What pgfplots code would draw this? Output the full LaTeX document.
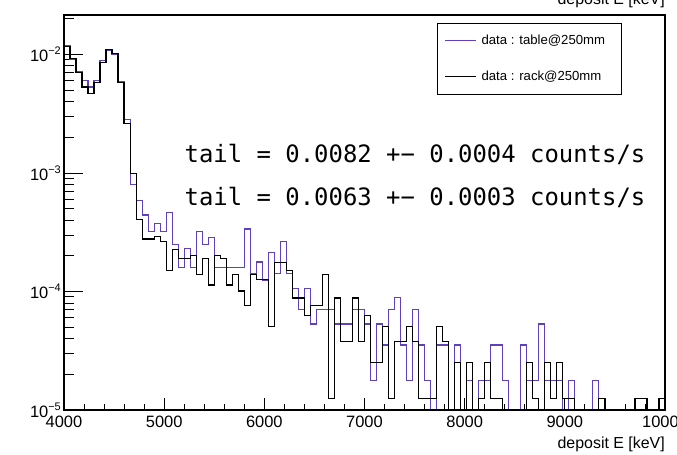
\documentclass[border=0pt]{standalone}
\usepackage{pgfplots}
\pgfplotsset{compat=1.18}
\usepackage{fontspec}
\setmainfont{Liberation Sans}
\newfontfamily\monofont{DejaVu Sans Mono}
\definecolor{purp}{RGB}{95,65,190}
\newcommand\tp[1]{10\raisebox{0.42em}{\fontsize{11}{11}\selectfont #1}}

\begin{document}
\begin{tikzpicture}
\begin{axis}[scale only axis, width=601bp, height=395bp,
  xmin=4000, xmax=10000, ymode=log, ymin=1e-5, ymax=0.0215,
  at={(0bp,0bp)}, anchor=south west,
  axis line style={line width=1.1bp},
  tick style={line width=0.8bp, black}, tick align=inside,
  tick label style={font=\fontsize{16.5}{18}\selectfont},
  xtick=\empty,
  ytick={1e-5,1e-4,1e-3,1e-2},
  yticklabels={\tp{−5},\tp{−4},\tp{−3},\tp{−2}},
  minor ytick={2e-5,3e-5,4e-5,5e-5,6e-5,7e-5,8e-5,9e-5,2e-4,3e-4,4e-4,5e-4,6e-4,7e-4,8e-4,9e-4,2e-3,3e-3,4e-3,5e-3,6e-3,7e-3,8e-3,9e-3,2e-2},
  ytick pos=left,
  major tick length=19bp, minor tick length=10bp,
  yticklabel style={inner sep=0pt, xshift=-3bp},
  legend cell align=left,
  legend image code/.code={\draw[#1] (0bp,0bp) -- (31bp,0bp);},
  legend style={at={(axis description cs:0.6201,0.9805)}, anchor=north west,
    draw=black, line width=0.8bp, fill=white,
    inner xsep=7.3bp, inner ysep=0pt, row sep=0pt, column sep=5bp,
    font=\fontsize{13.2}{15}\selectfont,
    nodes={inner sep=0pt, minimum height=35.5bp}},
]
\addplot[purp, line width=1.2bp, const plot mark left] table {
x y
4000 0.0119
4060 0.0091
4120 0.0071
4180 0.0060
4240 0.0053
4300 0.0060
4360 0.0089
4420 0.0109
4480 0.0100
4540 0.0059
4600 0.00282
4660 7.965e-4
4720 5.841e-4
4780 4.425e-4
4840 3.186e-4
4900 3.717e-4
4960 3.186e-4
5020 4.602e-4
5080 2.478e-4
5140 1.593e-4
5200 2.301e-4
5260 1.593e-4
5320 3.186e-4
5380 2.478e-4
5440 2.832e-4
5500 1.593e-4
5560 1.593e-4
5620 1.593e-4
5680 1.593e-4
5740 1.593e-4
5800 3.363e-4
5860 1.416e-4
5920 1.77e-4
5980 1.239e-4
6040 2.124e-4
6100 1.416e-4
6160 2.655e-4
6220 1.416e-4
6280 1.062e-4
6340 7.08e-5
6400 1.062e-4
6460 5.31e-5
6520 7.08e-5
6580 7.08e-5
6640 7.08e-5
6700 5.31e-5
6760 5.31e-5
6820 5.31e-5
6880 7.08e-5
6940 7.08e-5
7000 5.31e-5
7060 1.77e-5
7120 5.31e-5
7180 3.54e-5
7240 7.08e-5
7300 8.85e-5
7360 3.54e-5
7420 1.77e-5
7480 7.08e-5
7540 3.54e-5
7600 1.77e-5
7660 1e-7
7720 3.54e-5
7780 3.54e-5
7840 1e-7
7900 3.54e-5
7960 1e-7
8020 1.77e-5
8080 1e-7
8140 1.77e-5
8200 1.77e-5
8260 3.54e-5
8320 3.54e-5
8380 1.77e-5
8440 1e-7
8500 1e-7
8560 3.54e-5
8620 1.77e-5
8680 1.77e-5
8740 5.31e-5
8800 1.77e-5
8860 1.77e-5
8920 1.77e-5
8980 1e-7
9040 1.77e-5
9100 1e-7
9160 1e-7
9220 1e-7
9280 1.77e-5
9340 1e-7
9400 1e-7
9460 1e-7
9520 1e-7
9580 1e-7
9640 1e-7
9700 1e-7
9760 1e-7
9820 1e-7
9880 1e-7
9940 1e-7
10000 1e-7
};
\addlegendentry{data : table@250mm\rule{9bp}{0pt}}
\addplot[black, line width=1.2bp, const plot mark left] table {
x y
4000 0.0117
4060 0.0092
4120 0.0070
4180 0.0053
4240 0.0047
4300 0.0058
4360 0.0085
4420 0.0110
4480 0.0101
4540 0.0058
4600 0.00261
4660 9.9e-4
4720 4.032e-4
4780 2.772e-4
4840 2.772e-4
4900 2.898e-4
4960 2.646e-4
5020 1.512e-4
5080 2.268e-4
5140 1.89e-4
5200 1.89e-4
5260 2.016e-4
5320 1.386e-4
5380 1.89e-4
5440 1.134e-4
5500 2.016e-4
5560 1.89e-4
5620 1.134e-4
5680 1.386e-4
5740 1.008e-4
5800 7.56e-5
5860 1.386e-4
5920 1.26e-4
5980 1.26e-4
6040 5.04e-5
6100 1.764e-4
6160 1.764e-4
6220 1.512e-4
6280 8.82e-5
6340 8.82e-5
6400 6.3e-5
6460 7.56e-5
6520 7.56e-5
6580 1.386e-4
6640 1.26e-5
6700 8.82e-5
6760 3.78e-5
6820 3.78e-5
6880 8.82e-5
6940 3.78e-5
7000 6.3e-5
7060 2.52e-5
7120 2.52e-5
7180 5.04e-5
7240 1.26e-5
7300 3.78e-5
7360 3.78e-5
7420 5.04e-5
7480 3.78e-5
7540 1.26e-5
7600 1.26e-5
7660 1.26e-5
7720 5.04e-5
7780 3.78e-5
7840 1e-7
7900 2.52e-5
7960 1e-7
8020 2.52e-5
8080 1e-7
8140 1.26e-5
8200 2.52e-5
8260 1.26e-5
8320 1.26e-5
8380 1e-7
8440 1e-7
8500 1e-7
8560 1e-7
8620 2.52e-5
8680 1.26e-5
8740 1e-7
8800 2.52e-5
8860 1.26e-5
8920 2.52e-5
8980 1.26e-5
9040 1.26e-5
9100 1e-7
9160 1e-7
9220 1e-7
9280 1e-7
9340 1.26e-5
9400 1e-7
9460 1e-7
9520 1e-7
9580 1e-7
9640 1e-7
9700 1.26e-5
9760 1.26e-5
9820 1e-7
9880 1e-7
9940 1.26e-5
10000 1.26e-5
};
\addlegendentry{data : rack@250mm\rule{9bp}{0pt}}
\node[anchor=base west, inner sep=0pt, font=\monofont\fontsize{24}{28}\selectfont]
  at (axis description cs:0.2005,0.6278) {tail = 0.0082 +− 0.0004 counts/s};
\node[anchor=base west, inner sep=0pt, font=\monofont\fontsize{24}{28}\selectfont]
  at (axis description cs:0.2005,0.5177) {tail = 0.0063 +− 0.0003 counts/s};
\end{axis}

\begin{axis}[scale only axis, width=601bp, height=395bp,
  xmin=4000, xmax=10000, ymin=0, ymax=1,
  at={(0bp,0bp)}, anchor=south west,
  axis line style={line width=1.1bp},
  tick style={line width=0.8bp, black}, tick align=inside,
  tick label style={font=\fontsize{16.5}{18}\selectfont},
  scaled x ticks=false, scaled y ticks=false,
  ytick=\empty,
  xtick={4000,5000,6000,7000,8000,9000,10000},
  xticklabels={4000,5000,6000,7000,8000,9000,10000},
  minor x tick num=4, xtick pos=bottom,
  major tick length=12bp, minor tick length=6bp,
  xticklabel style={inner sep=0pt, yshift=-6bp},
  xlabel={deposit E [keV]},
  xlabel style={at={(axis description cs:1,0)}, anchor=base east, yshift=-38bp,
    inner sep=0pt, font=\fontsize{16}{18}\selectfont},
]
\end{axis}

\node[anchor=base east, inner sep=0pt, font=\fontsize{16}{18}\selectfont] at (601bp,405bp) {deposit E [keV]};
\pgfresetboundingbox
\path[use as bounding box] (-64bp,-45bp) rectangle (613bp,410bp);
\end{tikzpicture}
\end{document}
